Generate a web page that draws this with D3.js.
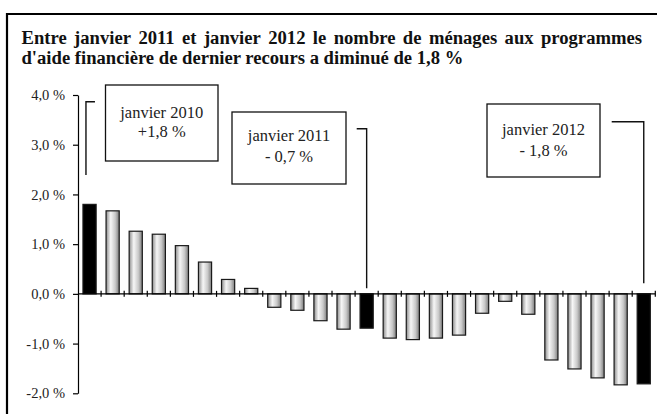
<!DOCTYPE html>
<html><head><meta charset="utf-8">
<script src="https://cdn.jsdelivr.net/npm/d3@7"></script>
<style>body{margin:0;background:#fff}svg{display:block}
svg text{font-family:"Liberation Serif","Tinos","Times New Roman","DejaVu Serif",serif;}
</style>
</head><body>
<script>
// ---- data ----
const months = ["2010-01","2010-02","2010-03","2010-04","2010-05","2010-06","2010-07","2010-08","2010-09","2010-10","2010-11","2010-12",
  "2011-01","2011-02","2011-03","2011-04","2011-05","2011-06","2011-07","2011-08","2011-09","2011-10","2011-11","2011-12","2012-01"];
const values = [1.80,1.67,1.26,1.20,0.97,0.64,0.29,0.11,-0.27,-0.33,-0.54,-0.71,-0.69,-0.89,-0.92,-0.89,-0.83,-0.39,-0.15,-0.41,-1.33,-1.51,-1.69,-1.83,-1.81];
const highlighted = ["2010-01","2011-01","2012-01"];
const yTicks = [-2,-1,0,1,2,3,4];
const titleLines = ["Entre janvier 2011 et janvier 2012 le nombre de ménages aux programmes",
                    "d'aide financière de dernier recours a diminué de 1,8 %"];
const noteMonths = ["2010-01","2011-01","2012-01"];
const noteLine1 = ["janvier 2010","janvier 2011","janvier 2012"];
const noteLine2 = ["+1,8 %","- 0,7 %","- 1,8 %"];

const W=657,H=414;
const svg=d3.select("body").append("svg").attr("width",W).attr("height",H);

const defs=svg.append("defs");
const g=defs.append("linearGradient").attr("id","bg").attr("x1","0").attr("x2","1").attr("y1","0").attr("y2","0");
[[0,"#8c8c8c"],[0.35,"#f6f6f6"],[0.7,"#c9c9c9"],[1,"#7c7c7c"]].forEach(s=>g.append("stop").attr("offset",s[0]).attr("stop-color",s[1]));

// frame
svg.append("line").attr("x1",6).attr("x2",W).attr("y1",14).attr("y2",14).attr("stroke","#000").attr("stroke-width",2.2);
svg.append("line").attr("x1",7).attr("x2",7).attr("y1",13).attr("y2",H).attr("stroke","#000").attr("stroke-width",2.2);

// title (justified first line)
const tx0=21.5, tx1=642;
const t2=svg.append("text").attr("x",tx0).attr("y",63.5).attr("font-weight","bold").attr("font-size",17).attr("fill","#111").text(titleLines[1]);
const w2=t2.node().getComputedTextLength();
const fs=17*442/w2;
t2.attr("font-size",fs);
const words=titleLines[0].split(" ");
const tmp=svg.append("g").attr("font-weight","bold").attr("font-size",fs);
const ws=words.map(w=>{const t=tmp.append("text").text(w);const l=t.node().getComputedTextLength();t.remove();return l;});
tmp.remove();
const gap=(tx1-tx0-d3.sum(ws))/(words.length-1);
let cx=tx0;
const tg=svg.append("g").attr("font-weight","bold").attr("font-size",fs).attr("fill","#111");
words.forEach((w,i)=>{tg.append("text").attr("x",cx).attr("y",44).text(w);cx+=ws[i]+gap;});

// scales
const x=d3.scaleBand().domain(months).range([78,655.3]).paddingInner(0.43).paddingOuter(0.215);
const y=d3.scaleLinear().domain([-2,4]).range([393.3,95]);

// bars
svg.append("g").selectAll("rect").data(values).join("rect")
  .attr("x",(d,i)=>x(months[i]))
  .attr("width",x.bandwidth())
  .attr("y",d=>y(Math.max(0,d)))
  .attr("height",d=>Math.abs(y(d)-y(0)))
  .attr("fill",(d,i)=>highlighted.includes(months[i])?"#000":"url(#bg)")
  .attr("stroke","#1a1a1a").attr("stroke-width",1.2);

// y axis
const ya=svg.append("g").attr("transform","translate(78,0)")
  .call(d3.axisLeft(y).tickValues(yTicks).tickSize(5).tickPadding(8).tickSizeOuter(0)
    .tickFormat(d=>d3.format(".1f")(d).replace(".",",").replace("−","-")+" %"));
ya.attr("font-family",null);
ya.select(".domain").attr("stroke","#000").attr("stroke-width",1.2);
ya.selectAll(".tick line").attr("stroke","#000").attr("stroke-width",1.2);
ya.selectAll("text").attr("font-size",14.5).attr("fill","#222");

// x axis line + cross ticks at band edges
const y0=y(0);
svg.append("line").attr("x1",78).attr("x2",655.3).attr("y1",y0).attr("y2",y0).attr("stroke","#000").attr("stroke-width",1.2);
const step=x.step();
svg.append("g").selectAll("line").data(months).join("line")
  .attr("x1",d=>x(d)-step*x.paddingInner()/2+step)
  .attr("x2",d=>x(d)-step*x.paddingInner()/2+step)
  .attr("y1",y0-3).attr("y2",y0+3).attr("stroke","#000").attr("stroke-width",1.2);

// annotations
const boxes=[{x:105.5,y:85,w:112.5,h:76,b1:32.5,b2:52},{x:232,y:112,w:114,h:72,b1:28.5,b2:50},{x:487,y:104,w:113,h:73,b1:31,b2:51.5}];
const conn=[
  (cxm)=>[[cxm+9,101.7],[cxm,101.7],[cxm,175]],
  (cxm)=>[[356.7,128.7],[cxm,128.7],[cxm,288.3]],
  (cxm)=>[[611.7,121.7],[cxm,121.7],[cxm,283.3]]
];
noteMonths.forEach((m,i)=>{
  const b=boxes[i];
  svg.append("rect").attr("x",b.x).attr("y",b.y).attr("width",b.w).attr("height",b.h).attr("fill","#fff").attr("stroke","#111").attr("stroke-width",1.3);
  svg.append("text").attr("x",b.x+b.w/2).attr("y",b.y+b.b1).attr("text-anchor","middle").attr("font-size",16.5).attr("fill","#222").text(noteLine1[i]);
  svg.append("text").attr("x",b.x+b.w/2).attr("y",b.y+b.b2).attr("text-anchor","middle").attr("font-size",16.5).attr("fill","#222").text(noteLine2[i]);
  const cxm = i===0 ? x(m)+3 : x(m)+x.bandwidth()/2;
  svg.append("path").attr("d",d3.line()(conn[i](cxm))).attr("fill","none").attr("stroke","#111").attr("stroke-width",1.4);
});
</script>
</body></html>
